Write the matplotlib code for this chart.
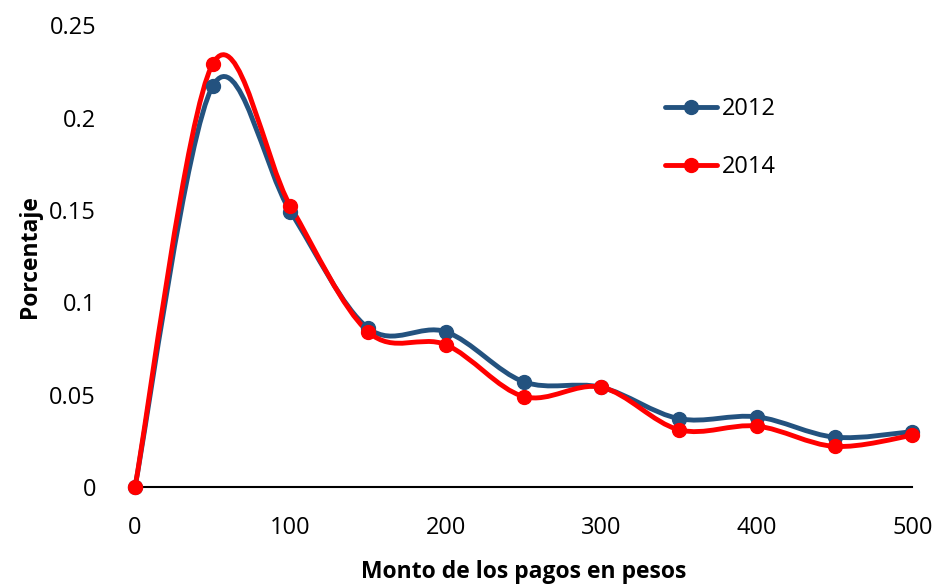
import numpy as np
import matplotlib.pyplot as plt
from matplotlib.path import Path
from matplotlib.patches import PathPatch
from matplotlib.lines import Line2D

plt.rcParams['font.family'] = ['Open Sans', 'DejaVu Sans']

# data
montos = [0, 50, 100, 150, 200, 250, 300, 350, 400, 450, 500]
pct_2012 = [0, 0.217, 0.149, 0.086, 0.084, 0.057, 0.054, 0.037, 0.038, 0.027, 0.030]
pct_2014 = [0, 0.229, 0.152, 0.084, 0.077, 0.049, 0.054, 0.031, 0.033, 0.022, 0.028]
x_ticks = [0, 100, 200, 300, 400, 500]
y_ticks = [0, 0.05, 0.1, 0.15, 0.2, 0.25]
y_tick_labels = ['0', '0.05', '0.1', '0.15', '0.2', '0.25']

color_2012 = '#23527f'
color_2014 = '#ff0000'


def smooth_path(xs, ys):
    # Excel-like smoothed line: cubic bezier segments (Catmull-Rom, tension 1/6)
    pts = np.column_stack([xs, ys]).astype(float)
    n = len(pts)
    verts = [pts[0]]
    codes = [Path.MOVETO]
    for i in range(n - 1):
        p0 = pts[i - 1] if i > 0 else pts[i]
        p1 = pts[i]
        p2 = pts[i + 1]
        p3 = pts[i + 2] if i + 2 < n else pts[i + 1]
        c1 = p1 + (p2 - p0) / 6.0
        c2 = p2 - (p3 - p1) / 6.0
        verts += [c1, c2, p2]
        codes += [Path.CURVE4] * 3
    return Path(verts, codes)


fig = plt.figure(figsize=(9.4, 5.84), dpi=100)
ax = fig.add_axes([0.1436, 0.166, 0.827, 0.791])

for ys, col in [(pct_2012, color_2012), (pct_2014, color_2014)]:
    patch = PathPatch(smooth_path(montos, ys), facecolor='none', edgecolor=col,
                      lw=3.5, capstyle='round', joinstyle='round', zorder=3, clip_on=False)
    ax.add_patch(patch)
    ax.plot(montos, ys, 'o', color=col, markersize=10, zorder=4, clip_on=False)

ax.set_xlim(0, 500)
ax.set_ylim(0, 0.25)
ax.set_xticks(x_ticks)
ax.set_yticks(y_ticks)
ax.set_yticklabels(y_tick_labels)
ax.tick_params(length=0, labelsize=17)
ax.tick_params(axis='y', pad=28)
ax.tick_params(axis='x', pad=21)
for s in ['top', 'right', 'left']:
    ax.spines[s].set_visible(False)
ax.spines['bottom'].set_linewidth(1.5)

ax.set_xlabel('Monto de los pagos en pesos', fontsize=16.5, fontweight='bold', labelpad=14)
ax.set_ylabel('Porcentaje', fontsize=16.5, fontweight='bold', labelpad=5)

handles = [Line2D([], [], color=color_2012, lw=3.5, marker='o', markersize=10, solid_capstyle='round'),
           Line2D([], [], color=color_2014, lw=3.5, marker='o', markersize=10, solid_capstyle='round')]
ax.legend(handles, ['2012', '2014'], loc='upper left', bbox_to_anchor=(0.655, 0.89),
          frameon=False, fontsize=17, handlelength=2.2, labelspacing=1.45, handletextpad=0.2)

fig.savefig('out.png', dpi=100)
